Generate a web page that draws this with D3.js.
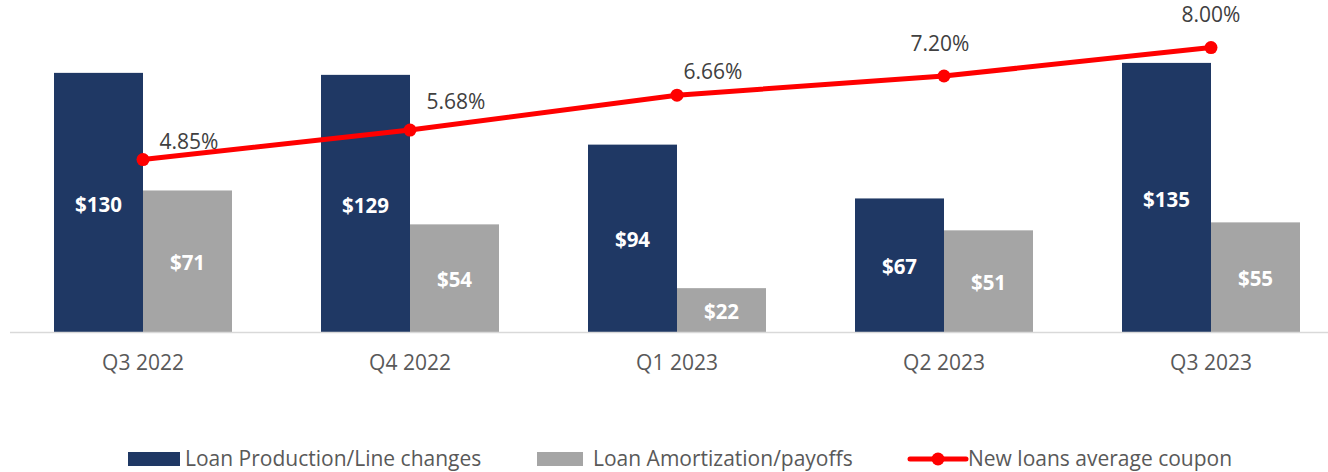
<!DOCTYPE html>
<html>
<head>
<meta charset="utf-8">
<script src="https://cdn.jsdelivr.net/npm/d3@7"></script>
<style>
  body { margin: 0; background: #fff; }
  svg { display: block; font-family: "Open Sans", sans-serif; }
</style>
</head>
<body>
<svg id="chart" width="1328" height="472"></svg>
<script>
// data
const quarters = ["Q3 2022", "Q4 2022", "Q1 2023", "Q2 2023", "Q3 2023"];
const production = [130, 129, 94, 67, 135];
const amortization = [71, 54, 22, 51, 55];
const coupon = [4.85, 5.68, 6.66, 7.20, 8.00];
const seriesNames = ["Loan Production/Line changes", "Loan Amortization/payoffs", "New loans average coupon"];

const colors = { prod: "#1f3864", amort: "#a5a5a5", line: "#ff0000", text: "#595959" };

const svg = d3.select("#chart");
const baseY = 332;
const fs = 21;

const x = d3.scaleBand().domain(quarters).range([9.5, 1344.5]).paddingInner(1 / 3).paddingOuter(1 / 6);
const xs = d3.scaleBand().domain(["prod", "amort"]).range([0, x.bandwidth()]);
const y = d3.scaleLinear().domain([0, 150]).range([baseY, 33]);
const y2 = d3.scaleLinear().domain([0, 9]).range([baseY, 12]);

const rows = quarters.map((q, i) => ({ q, prod: production[i], amort: amortization[i], coupon: coupon[i] }));

// bars
const g = svg.append("g");
["prod", "amort"].forEach(key => {
  g.selectAll("rect." + key)
    .data(rows)
    .enter()
    .append("rect")
    .attr("class", key)
    .attr("x", d => x(d.q) + xs(key))
    .attr("y", d => y(d[key]))
    .attr("width", xs.bandwidth())
    .attr("height", d => baseY - y(d[key]))
    .attr("fill", colors[key]);

  g.selectAll("text." + key)
    .data(rows)
    .enter()
    .append("text")
    .attr("class", key)
    .attr("x", d => x(d.q) + xs(key) + xs.bandwidth() / 2)
    .attr("y", d => (y(d[key]) + baseY) / 2 + 2)
    .attr("dy", "0.35em")
    .attr("text-anchor", "middle")
    .attr("fill", "#fff")
    .attr("font-weight", "bold")
    .attr("font-size", 20.5)
    .text(d => "$" + d[key]);
});

// baseline + category axis
const xAxis = svg.append("g")
  .attr("transform", `translate(0,${baseY})`)
  .call(d3.axisBottom(x).tickSize(0).tickPadding(23));
xAxis.select(".domain").attr("stroke", "#d9d9d9").attr("stroke-width", 1.5).attr("d", "M10,0.5H1328");
xAxis.selectAll("text").attr("font-size", fs).attr("fill", colors.text).attr("font-family", "'Open Sans', sans-serif");

// coupon line
const cx = d => x(d.q) + x.bandwidth() / 2;
svg.append("path")
  .datum(rows)
  .attr("fill", "none")
  .attr("stroke", colors.line)
  .attr("stroke-width", 5)
  .attr("d", d3.line().x(cx).y(d => y2(d.coupon)));

svg.selectAll("circle.pt")
  .data(rows)
  .enter()
  .append("circle")
  .attr("class", "pt")
  .attr("cx", cx)
  .attr("cy", d => y2(d.coupon))
  .attr("r", 6.5)
  .attr("fill", colors.line);

// label placement around each point
const labDx = [46, 46, 36, -4, 0];
const labDy = [-18, -28, -24, -32, -33];
svg.selectAll("text.pct")
  .data(rows)
  .enter()
  .append("text")
  .attr("class", "pct")
  .attr("x", (d, i) => cx(d) + labDx[i])
  .attr("y", (d, i) => y2(d.coupon) + labDy[i])
  .attr("dy", "0.35em")
  .attr("text-anchor", "middle")
  .attr("font-size", fs)
  .attr("fill", "#404040")
  .text(d => d.coupon.toFixed(2) + "%");

// legend
const legY = 459;
const leg = svg.append("g");
const legX = [128, 537, 910];
leg.append("rect").attr("x", legX[0]).attr("y", legY - 7).attr("width", 52).attr("height", 14).attr("fill", colors.prod);
leg.append("rect").attr("x", legX[1]).attr("y", legY - 7).attr("width", 46).attr("height", 14).attr("fill", colors.amort);
leg.append("line").attr("x1", legX[2]).attr("x2", legX[2] + 56).attr("y1", legY).attr("y2", legY)
  .attr("stroke", colors.line).attr("stroke-width", 5).attr("stroke-linecap", "round");
leg.append("circle").attr("cx", legX[2] + 28).attr("cy", legY).attr("r", 6.5).attr("fill", colors.line);
const legTx = [185, 593, 968];
seriesNames.forEach((n, i) => {
  leg.append("text")
    .attr("x", legTx[i])
    .attr("y", legY)
    .attr("dy", "0.35em")
    .attr("font-size", fs)
    .attr("fill", colors.text)
    .text(n);
});
</script>
</body>
</html>
